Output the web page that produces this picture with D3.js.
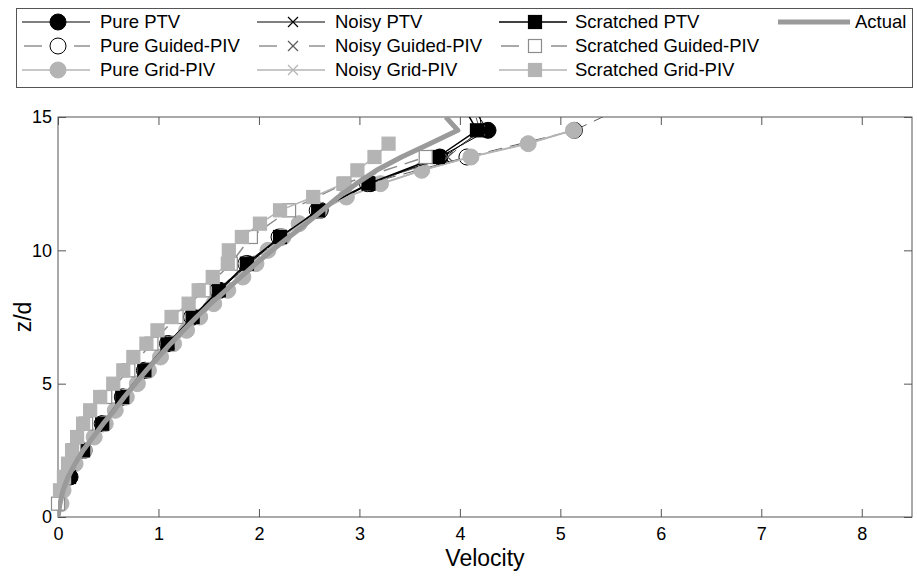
<!DOCTYPE html>
<html>
<head>
<meta charset="utf-8">
<script src="https://cdn.jsdelivr.net/npm/d3@7"></script>
<style>
  html, body { margin: 0; padding: 0; background: #fff; }
  svg { display: block; font-family: "Liberation Sans", Arial, Helvetica, sans-serif; }
</style>
</head>
<body>
<svg id="chart" width="917" height="579"></svg>
<script>
// ---------------- DATA ----------------
const xTicks = [0, 1, 2, 3, 4, 5, 6, 7, 8];
const yTicks = [0, 5, 10, 15];

// heights (z/d) of the sample layers
const zPTV = [1.5, 2.5, 3.5, 4.5, 5.5, 6.5, 7.5, 8.5, 9.5, 10.5, 11.5, 12.5, 13.5, 14.5, 15.5];
const zScratchGuided = [0.5, 1.5, 2.5, 3.5, 4.5, 5.5, 6.5, 7.5, 8.5, 9.5, 10.5, 11.5, 12.5, 13.5];
const zHalf = [0.5, 1, 1.5, 2, 2.5, 3, 3.5, 4, 4.5, 5, 5.5, 6, 6.5, 7, 7.5, 8, 8.5, 9, 9.5, 10,
               10.5, 11, 11.5, 12, 12.5, 13, 13.5, 14, 14.5];
const zScratchGrid = [1, 1.5, 2, 2.5, 3, 3.5, 4, 4.5, 5, 5.5, 6, 6.5, 7, 7.5, 8, 8.5, 9, 9.5, 10,
                      10.5, 11, 11.5, 12, 12.5, 13, 13.5, 14];
const zActual = [0, 0.5, 1, 1.5, 2, 2.5, 3, 3.5, 4, 4.5, 5, 5.5, 6, 6.5, 7, 7.5, 8, 8.5, 9, 9.5, 10,
                 10.5, 11, 11.5, 12, 12.5, 13, 13.5, 14, 14.5, 15];

// velocities
const purePTV       = [0.12, 0.26, 0.45, 0.65, 0.87, 1.10, 1.35, 1.61, 1.89, 2.23, 2.61, 3.11, 3.80, 4.28, 4.10];
const pureGuided    = [0.10, 0.25, 0.44, 0.64, 0.86, 1.09, 1.33, 1.59, 1.87, 2.20, 2.58, 3.08, 4.07, 5.14, 5.70];
const pureGrid      = [0.03, 0.05, 0.09, 0.17, 0.26, 0.36, 0.47, 0.57, 0.68, 0.79, 0.90, 1.02, 1.15, 1.28, 1.41,
                       1.55, 1.69, 1.84, 1.97, 2.09, 2.24, 2.40, 2.60, 2.87, 3.21, 3.62, 4.11, 4.68, 5.13];
const noisyPTV      = [0.11, 0.26, 0.44, 0.65, 0.87, 1.11, 1.35, 1.61, 1.90, 2.22, 2.60, 3.10, 3.84, 4.22, 4.18];
const noisyGuided   = [0.10, 0.25, 0.44, 0.64, 0.86, 1.10, 1.34, 1.60, 1.88, 2.21, 2.59, 3.09, 3.88, 4.20, 4.12];
const noisyGrid     = [0.03, 0.05, 0.10, 0.17, 0.26, 0.36, 0.47, 0.58, 0.68, 0.80, 0.90, 1.03, 1.15, 1.29, 1.41,
                       1.56, 1.69, 1.84, 1.98, 2.10, 2.24, 2.41, 2.61, 2.88, 3.22, 3.63, 4.10, 4.66, 5.12];
const scratchedPTV  = [0.11, 0.25, 0.44, 0.64, 0.86, 1.09, 1.34, 1.60, 1.88, 2.21, 2.59, 3.09, 3.78, 4.17, 4.02];
const scratchedGuided = [0.00, 0.06, 0.16, 0.28, 0.47, 0.70, 0.93, 1.18, 1.45, 1.72, 1.92, 2.30, 2.85, 3.66];
const scratchedGrid = [0.02, 0.06, 0.10, 0.14, 0.19, 0.25, 0.32, 0.42, 0.55, 0.65, 0.75, 0.88, 0.99, 1.13,
                       1.30, 1.40, 1.54, 1.69, 1.70, 1.83, 2.01, 2.21, 2.54, 2.84, 2.98, 3.15, 3.29];
const actual        = [0.00, 0.02, 0.05, 0.10, 0.17, 0.25, 0.35, 0.45, 0.56, 0.66, 0.77, 0.88, 1.00, 1.12, 1.25,
                       1.38, 1.52, 1.67, 1.82, 1.97, 2.13, 2.30, 2.47, 2.63, 2.79, 2.97, 3.17, 3.42, 3.70, 3.98, 3.86];

const seriesNames = ["Pure PTV", "Pure Guided-PIV", "Pure Grid-PIV",
                     "Noisy PTV", "Noisy Guided-PIV", "Noisy Grid-PIV",
                     "Scratched PTV", "Scratched Guided-PIV", "Scratched Grid-PIV", "Actual"];

// ---------------- STYLES ----------------
const BLACK = "#000000", DARK = "#5a5a5a", LIGHT = "#b4b4b4", MID = "#8c8c8c", ACT = "#9a9a9a";
const series = [
  { name: seriesNames[0], z: zPTV,  v: purePTV,        stroke: BLACK, width: 1,   dash: null,   marker: "circle", fill: BLACK,  mstroke: BLACK },
  { name: seriesNames[1], z: zPTV,  v: pureGuided,     stroke: DARK,  width: 1,   dash: "14,8", marker: "circle", fill: "#fff", mstroke: BLACK },
  { name: seriesNames[2], z: zHalf, v: pureGrid,       stroke: LIGHT, width: 1.5, dash: null,   marker: "circle", fill: LIGHT,  mstroke: LIGHT },
  { name: seriesNames[3], z: zPTV,  v: noisyPTV,       stroke: BLACK, width: 1,   dash: null,   marker: "x",      fill: "none", mstroke: BLACK },
  { name: seriesNames[4], z: zPTV,  v: noisyGuided,    stroke: DARK,  width: 1,   dash: "14,8", marker: "x",      fill: "none", mstroke: DARK },
  { name: seriesNames[5], z: zHalf, v: noisyGrid,      stroke: LIGHT, width: 1.5, dash: null,   marker: "x",      fill: "none", mstroke: LIGHT },
  { name: seriesNames[6], z: zPTV,  v: scratchedPTV,   stroke: BLACK, width: 1.5, dash: null,   marker: "square", fill: BLACK,  mstroke: BLACK },
  { name: seriesNames[7], z: zScratchGuided, v: scratchedGuided, stroke: MID, width: 1.5, dash: "14,8", marker: "square", fill: "#fff", mstroke: MID },
  { name: seriesNames[8], z: zScratchGrid, v: scratchedGrid, stroke: LIGHT, width: 1.5, dash: null, marker: "square", fill: LIGHT, mstroke: LIGHT },
  { name: seriesNames[9], z: zActual, v: actual,       stroke: ACT,   width: 5,   dash: null,   marker: null }
];

// ---------------- LAYOUT ----------------
const svg = d3.select("#chart");
const plot = { left: 58, right: 912, top: 117, bottom: 517 };
const x = d3.scaleLinear().domain([0, 8.5]).range([plot.left, plot.right]);
const y = d3.scaleLinear().domain([0, 15]).range([plot.bottom, plot.top]);
const AXIS = "#555555";

svg.append("defs").append("clipPath").attr("id", "clip")
  .append("rect").attr("x", plot.left).attr("y", plot.top)
  .attr("width", plot.right - plot.left).attr("height", plot.bottom - plot.top);

// axes (ticks inward on all four sides)
const gx = svg.append("g").attr("transform", `translate(0,${plot.bottom})`)
  .call(d3.axisBottom(x).tickValues(xTicks).tickSizeInner(-8).tickSizeOuter(0).tickPadding(10).tickFormat(d3.format("d")));
const gxt = svg.append("g").attr("transform", `translate(0,${plot.top})`)
  .call(d3.axisTop(x).tickValues(xTicks).tickSizeInner(-8).tickSizeOuter(0).tickFormat(""));
const gy = svg.append("g").attr("transform", `translate(${plot.left},0)`)
  .call(d3.axisLeft(y).tickValues(yTicks).tickSizeInner(-8).tickSizeOuter(0).tickPadding(6).tickFormat(d3.format("d")));
const gyr = svg.append("g").attr("transform", `translate(${plot.right},0)`)
  .call(d3.axisRight(y).tickValues(yTicks).tickSizeInner(-8).tickSizeOuter(0).tickFormat(""));
[gx, gxt, gy, gyr].forEach(g => {
  g.select(".domain").remove();
  g.selectAll(".tick line").attr("stroke", AXIS).attr("stroke-width", 1);
  g.selectAll(".tick text").attr("fill", "#000").attr("font-size", 18)
   .attr("font-family", "'Liberation Sans', Arial, sans-serif");
});
svg.append("rect").attr("x", plot.left).attr("y", plot.top)
  .attr("width", plot.right - plot.left).attr("height", plot.bottom - plot.top)
  .attr("fill", "none").attr("stroke", AXIS).attr("stroke-width", 1);

// axis labels
svg.append("text").attr("x", (plot.left + plot.right) / 2).attr("y", 566)
  .attr("text-anchor", "middle").attr("font-size", 23).text("Velocity");
svg.append("text").attr("transform", `translate(31,${(plot.top + plot.bottom) / 2}) rotate(-90)`)
  .attr("text-anchor", "middle").attr("font-size", 23).text("z/d");

// marker drawer
function drawMarker(g, type, cx, cy, s) {
  if (type === "circle") {
    g.append("circle").attr("cx", cx).attr("cy", cy).attr("r", 8)
      .attr("fill", s.fill).attr("stroke", s.mstroke).attr("stroke-width", 1);
  } else if (type === "square") {
    g.append("rect").attr("x", cx - 6.5).attr("y", cy - 6.5).attr("width", 13).attr("height", 13)
      .attr("fill", s.fill).attr("stroke", s.mstroke).attr("stroke-width", 1.2);
  } else if (type === "x") {
    const r = 5;
    g.append("path").attr("d", `M${cx - r},${cy - r}L${cx + r},${cy + r}M${cx - r},${cy + r}L${cx + r},${cy - r}`)
      .attr("stroke", s.mstroke).attr("stroke-width", 1.2).attr("fill", "none");
  }
}

// series
const line = d3.line().x(d => x(d[0])).y(d => y(d[1]));
const dataG = svg.append("g");
series.forEach(s => {
  const pts = s.z.map((z, i) => [s.v[i], z]);
  const g = dataG.append("g");
  g.append("path").attr("d", line(pts)).attr("clip-path", "url(#clip)")
    .attr("fill", "none").attr("stroke", s.stroke).attr("stroke-width", s.width)
    .attr("stroke-dasharray", s.dash).attr("stroke-linejoin", "round");
  if (s.marker) {
    pts.filter(p => p[1] <= 15 && p[0] <= 8.5).forEach(p => drawMarker(g, s.marker, x(p[0]), y(p[1]), s));
  }
});

// ---------------- LEGEND ----------------
const leg = svg.append("g");
leg.append("rect").attr("x", 16.5).attr("y", 8.5).attr("width", 896).attr("height", 79)
  .attr("fill", "#fff").attr("stroke", AXIS).attr("stroke-width", 1);
const colX = [22, 257, 499, 778];
const textX = [100, 335, 575, 855];
const rowY = [22, 46, 70];
const legendLayout = [[0, 0], [0, 1], [0, 2], [1, 0], [1, 1], [1, 2], [2, 0], [2, 1], [2, 2], [3, 0]];
series.forEach((s, i) => {
  const [c, r] = legendLayout[i];
  const x0 = colX[c], yy = rowY[r];
  const g = leg.append("g");
  if (s.dash) {
    g.append("line").attr("x1", x0 + 2).attr("x2", x0 + 20).attr("y1", yy).attr("y2", yy)
      .attr("stroke", s.stroke).attr("stroke-width", s.width);
    g.append("line").attr("x1", x0 + 52).attr("x2", x0 + 68).attr("y1", yy).attr("y2", yy)
      .attr("stroke", s.stroke).attr("stroke-width", s.width);
  } else {
    g.append("line").attr("x1", x0).attr("x2", x0 + (s.marker ? 68 : 72)).attr("y1", yy).attr("y2", yy)
      .attr("stroke", s.stroke).attr("stroke-width", s.width);
  }
  if (s.marker) drawMarker(g, s.marker, x0 + 36, yy, s);
  g.append("text").attr("x", textX[c]).attr("y", yy).attr("dy", "0.35em")
    .attr("font-size", 18.5).attr("fill", "#000").text(s.name);
});
</script>
</body>
</html>
